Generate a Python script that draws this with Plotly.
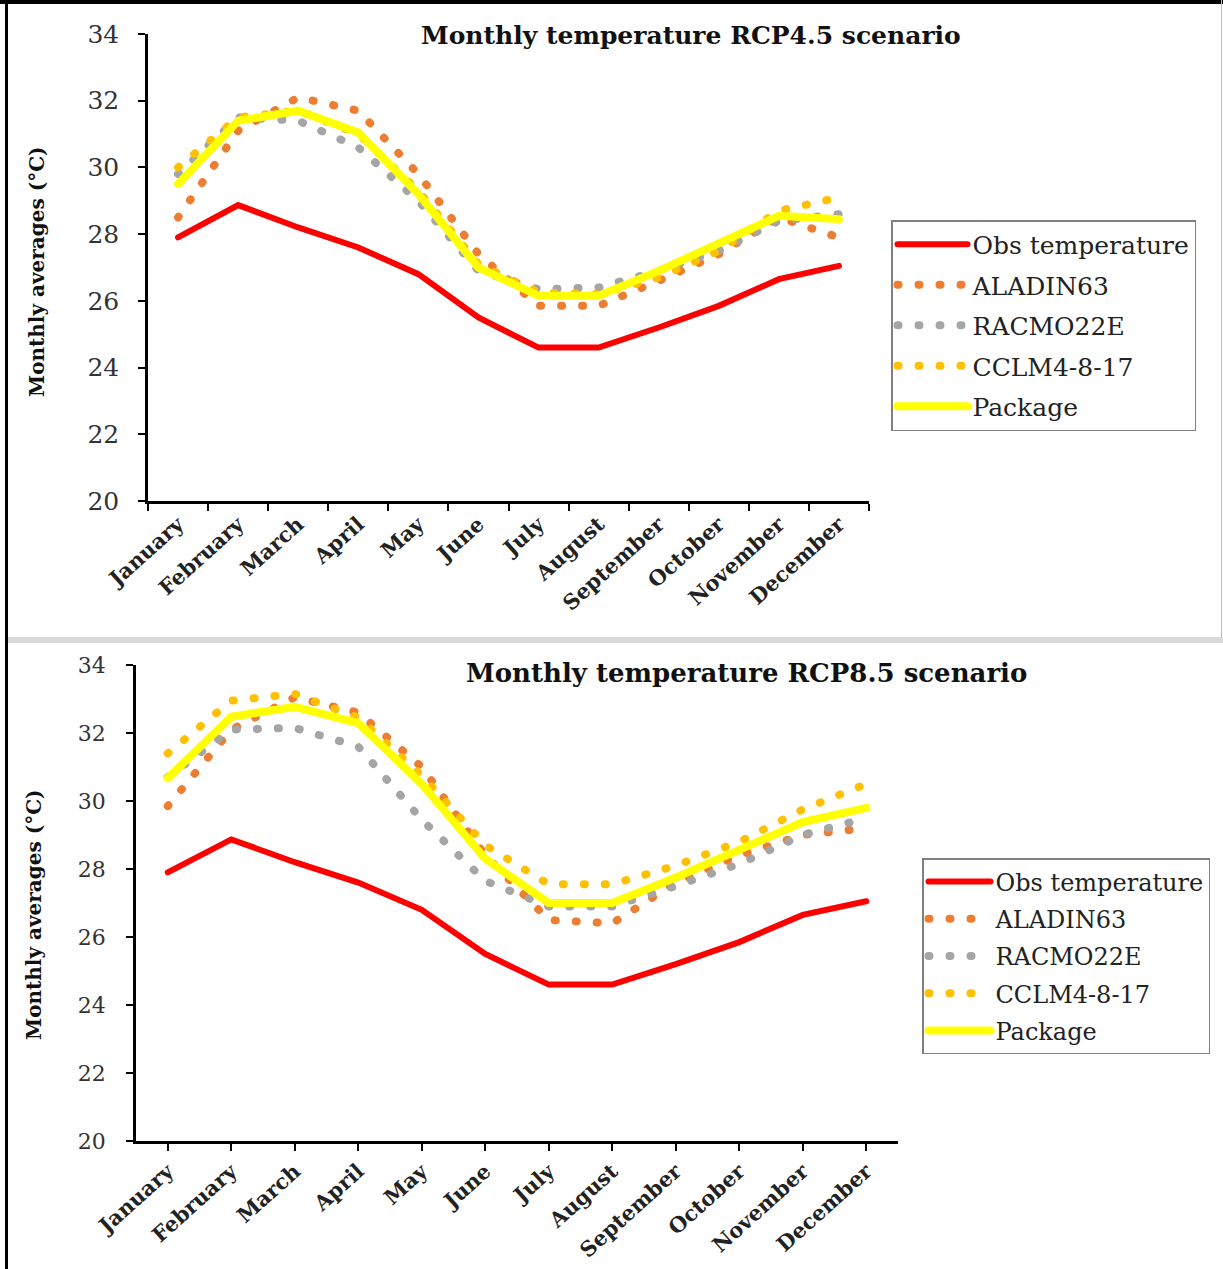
import plotly.graph_objects as go

W, H = 1223, 1269

months = ["January", "February", "March", "April", "May", "June", "July",
          "August", "September", "October", "November", "December"]

# RCP4.5 (top chart)
obs_45 = [27.9, 28.87, 28.2, 27.6, 26.8, 25.5, 24.6, 24.6, 25.2, 25.85, 26.65, 27.05]
aladin_45 = [28.5, 31.1, 32.1, 31.7, 29.8, 27.4, 25.85, 25.85, 26.6, 27.4, 28.5, 27.9]
racmo_45 = [29.8, 31.5, 31.4, 30.6, 29.0, 26.9, 26.35, 26.4, 26.9, 27.5, 28.4, 28.6]
cclm_45 = [30.0, 31.5, 31.7, 31.0, 29.3, 27.1, 26.25, 26.2, 26.7, 27.5, 28.7, 29.1]
package_45 = [29.5, 31.4, 31.7, 31.05, 29.2, 27.0, 26.15, 26.15, 26.9, 27.7, 28.55, 28.45]

# RCP8.5 (bottom chart)
obs_85 = [27.9, 28.87, 28.2, 27.6, 26.8, 25.5, 24.6, 24.6, 25.2, 25.85, 26.65, 27.05]
aladin_85 = [29.85, 32.1, 33.05, 32.6, 31.0, 28.4, 26.5, 26.4, 27.6, 28.4, 29.0, 29.2]
racmo_85 = [30.7, 32.1, 32.15, 31.6, 29.45, 27.65, 26.9, 26.9, 27.5, 28.15, 29.0, 29.5]
cclm_85 = [31.4, 32.95, 33.15, 32.45, 30.75, 28.7, 27.55, 27.55, 28.1, 28.8, 29.75, 30.5]
package_85 = [30.67, 32.48, 32.77, 32.29, 30.5, 28.3, 27.0, 27.0, 27.75, 28.55, 29.38, 29.8]

series_names = ["Obs temperature", "ALADIN63", "RACMO22E", "CCLM4-8-17", "Package"]
y_ticks = [20, 22, 24, 26, 28, 30, 32, 34]
titles = ["Monthly temperature RCP4.5 scenario", "Monthly temperature RCP8.5 scenario"]
y_title = "Monthly averages (°C)"

FONT = "DejaVu Serif"
styles = [
    dict(color="#FF0000", width=6, dash="solid"),
    dict(color="#ED7D31", width=8, dash="1px,20px"),
    dict(color="#A5A5A5", width=8, dash="1px,20px"),
    dict(color="#FFC000", width=8, dash="1px,20px"),
    dict(color="#FFFF00", width=8, dash="solid"),
]

fig = go.Figure()

def add_block(data, xa, ya, legend_name):
    for i, (name, vals) in enumerate(zip(series_names, data)):
        fig.add_trace(go.Scatter(
            x=months, y=vals, mode="lines", name=name,
            line=styles[i], xaxis=xa, yaxis=ya, legend=legend_name,
            legendgroup=legend_name + str(i), hoverinfo="skip"))

add_block([obs_45, aladin_45, racmo_45, cclm_45, package_45], "x", "y", "legend")
add_block([obs_85, aladin_85, racmo_85, cclm_85, package_85], "x2", "y2", "legend2")

def px_x(v):
    return v / W

def px_y(v):
    return 1 - v / H

axis_common = dict(showline=True, linecolor="black", linewidth=2.5, showgrid=False,
                   zeroline=False, ticks="outside", ticklen=7, tickwidth=2,
                   tickcolor="black", automargin=False)

fig.update_layout(
    width=W, height=H, margin=dict(l=0, r=0, t=0, b=0),
    paper_bgcolor="white", plot_bgcolor="white",
    xaxis=dict(domain=[px_x(148), px_x(869)], anchor="y", type="category",
               range=[-0.5, 11.5], tickson="boundaries", tickangle=-42,
               tickfont=dict(family=FONT, size=21, color="#222", weight="bold"),
               **axis_common),
    yaxis=dict(domain=[px_y(501), px_y(34)], anchor="x", range=[20, 34],
               tickvals=y_ticks, ticklabelstandoff=14,
               tickfont=dict(family=FONT, size=25, color="#333"),
               **axis_common),
    xaxis2=dict(domain=[px_x(136), px_x(898)], anchor="y2", type="category",
                range=[-0.5, 11.5], tickangle=-42,
                tickfont=dict(family=FONT, size=21, color="#222", weight="bold"),
                **axis_common),
    yaxis2=dict(domain=[px_y(1141), px_y(665)], anchor="x2", range=[20, 34],
                tickvals=y_ticks, ticklabelstandoff=16,
                tickfont=dict(family=FONT, size=22, color="#333"),
                **axis_common),
    legend=dict(x=px_x(891), y=px_y(220), xanchor="left", yanchor="top",
                bordercolor="#808080", borderwidth=1.5, bgcolor="white",
                font=dict(family=FONT, size=25, color="#222"),
                itemwidth=70, tracegroupgap=5, traceorder="grouped"),
    legend2=dict(x=px_x(922), y=px_y(858), xanchor="left", yanchor="top",
                 bordercolor="#808080", borderwidth=1.5, bgcolor="white",
                 font=dict(family=FONT, size=24, color="#222"),
                 itemwidth=62, tracegroupgap=3, traceorder="grouped"),
    showlegend=True,
)

annotations = [
    dict(text=titles[0], x=px_x(691), y=px_y(35), xref="paper", yref="paper",
         showarrow=False, xanchor="center", yanchor="middle",
         font=dict(family=FONT, size=25, color="#111", weight="bold")),
    dict(text=titles[1], x=px_x(746), y=px_y(673), xref="paper", yref="paper",
         showarrow=False, xanchor="center", yanchor="middle",
         font=dict(family=FONT, size=26, color="#111", weight="bold")),
    dict(text=y_title, x=px_x(37), y=px_y(272), xref="paper", yref="paper",
         showarrow=False, xanchor="center", yanchor="middle", textangle=-90,
         font=dict(family=FONT, size=20, color="#111", weight="bold")),
    dict(text=y_title, x=px_x(34), y=px_y(915), xref="paper", yref="paper",
         showarrow=False, xanchor="center", yanchor="middle", textangle=-90,
         font=dict(family=FONT, size=20, color="#111", weight="bold")),
]
fig.update_layout(annotations=annotations)

shapes = [
    dict(type="line", xref="paper", yref="paper", x0=0, x1=1, y0=px_y(2), y1=px_y(2),
         line=dict(color="black", width=4)),
    dict(type="line", xref="paper", yref="paper", x0=px_x(6.5), x1=px_x(6.5), y0=0, y1=1,
         line=dict(color="black", width=3)),
    dict(type="line", xref="paper", yref="paper", x0=px_x(1221.5), x1=px_x(1221.5),
         y0=px_y(637), y1=1, line=dict(color="#bbbbbb", width=1)),
    dict(type="rect", xref="paper", yref="paper", x0=px_x(8), x1=1, y0=px_y(643), y1=px_y(637),
         fillcolor="#d9d9d9", line=dict(width=0)),
]
fig.update_layout(shapes=shapes)

post = """
var s = document.createElement('style');
s.textContent = '.scatterlayer .js-line, .legend .js-line, .legendlines path { stroke-linecap: round !important; }';
document.head.appendChild(s);
"""
fig.write_html("out.html", post_script=post)
